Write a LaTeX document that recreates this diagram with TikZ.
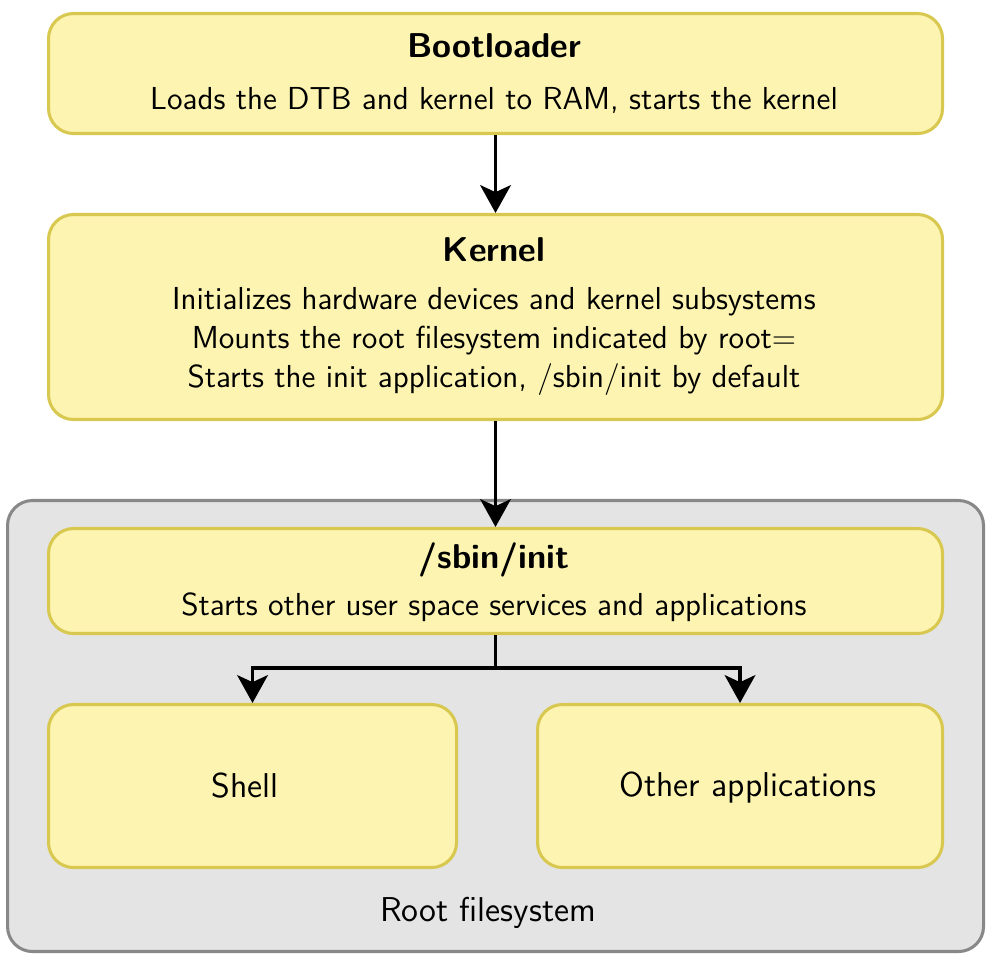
\documentclass[tikz,border=0pt]{standalone}
\usetikzlibrary{arrows.meta}
\definecolor{boxfill}{HTML}{FCF4B0}
\definecolor{boxdraw}{HTML}{D8C850}
\definecolor{rootfill}{HTML}{E4E4E4}
\definecolor{rootdraw}{HTML}{888888}
\begin{document}
\begin{tikzpicture}[x=0.36pt,y=-0.36pt,
  font=\sffamily\fontsize{11.45}{13.5}\selectfont,
  ybox/.style={draw=boxdraw, fill=boxfill, line width=1.1pt, rounded corners=9pt,
    anchor=north west, inner sep=0pt, minimum width=321.84pt},
  rbox/.style={draw=rootdraw, fill=rootfill, line width=1.1pt, rounded corners=9pt,
    anchor=north west, inner sep=0pt},
  title/.style={font=\sffamily\bfseries\fontsize{12.4}{14}\selectfont, inner sep=0pt},
  body/.style={inner sep=0pt},
  big/.style={font=\sffamily\fontsize{12.4}{14}\selectfont, inner sep=0pt},
  arr/.style={line width=1.4pt, -{Stealth[length=10pt,width=11pt,inset=2.5pt]}},
  plain/.style={line width=1.4pt}
]
\useasboundingbox (0,0) rectangle (990,956);
\node[ybox, minimum height=43.2pt] (boot) at (47,12) {};
\node[title] (boott) at (494,46) {Bootloader};
\node[body] (bootb) at (494,100) {Loads the DTB and kernel to RAM, starts the kernel};

\node[ybox, minimum height=73.8pt] (kernel) at (47,213) {};
\node[title] (kernelt) at (494,250) {Kernel};
\node[body] (kernel1) at (494,302) {Initializes hardware devices and kernel subsystems};
\node[body] (kernel2) at (494,341) {Mounts the root filesystem indicated by root=};
\node[body] (kernel3) at (494,380) {Starts the init application, /sbin/init by default};

\node[rbox, minimum width=351.36pt, minimum height=162.36pt] (root) at (6,499) {};
\node[big] (rootl) at (488,913) {Root filesystem};

\node[ybox, minimum height=37.8pt] (sbin) at (47,527) {};
\node[title] (sbint) at (494,560) {/sbin/init};
\node[body] (sbinb) at (494,607) {Starts other user space services and applications};

\node[ybox, minimum width=146.88pt, minimum height=58.68pt] (shell) at (47,703) {};
\node[big] (shellt) at (245,786) {Shell};
\node[ybox, minimum width=145.8pt, minimum height=58.68pt] (other) at (536,703) {};
\node[big] (othert) at (748,788) {Other applications};

\draw[arr] (boot.south) -- (kernel.north);
\draw[arr] (kernel.south) -- (kernel.south |- sbin.north);
\coordinate (split) at (sbin.south |- 0,668);
\draw[plain] (sbin.south) -- (split);
\draw[arr] (split) -| (shell.north);
\draw[arr] (split) -| (other.north);
\end{tikzpicture}
\end{document}
